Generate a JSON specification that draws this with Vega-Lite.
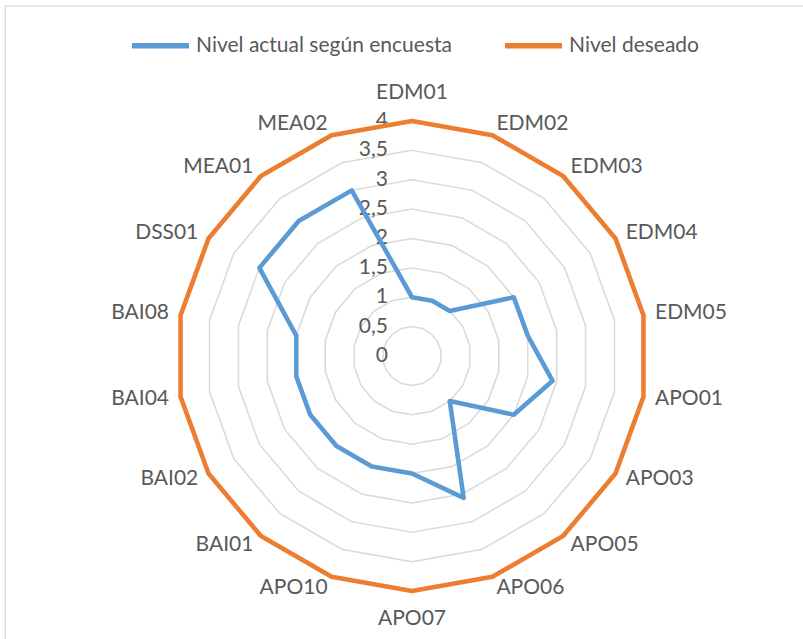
{
  "$schema": "https://vega.github.io/schema/vega-lite/v6.json",
  "autosize": "none",
  "width": 800,
  "height": 640,
  "padding": {"left": 5, "top": 6, "right": 0, "bottom": 0},
  "background": "white",
  "config": {
    "view": {"stroke": "#D9D9D9", "strokeWidth": 1.3},
    "font": "Lato",
    "text": {"font": "Lato"}
  },
  "datasets": {
    "niveles": [
      {"proceso": "EDM01", "serie": "Nivel actual según encuesta", "valor": 1},
      {"proceso": "EDM02", "serie": "Nivel actual según encuesta", "valor": 1},
      {"proceso": "EDM03", "serie": "Nivel actual según encuesta", "valor": 1},
      {"proceso": "EDM04", "serie": "Nivel actual según encuesta", "valor": 2},
      {"proceso": "EDM05", "serie": "Nivel actual según encuesta", "valor": 2},
      {"proceso": "APO01", "serie": "Nivel actual según encuesta", "valor": 2.43},
      {"proceso": "APO03", "serie": "Nivel actual según encuesta", "valor": 2},
      {"proceso": "APO05", "serie": "Nivel actual según encuesta", "valor": 1},
      {"proceso": "APO06", "serie": "Nivel actual según encuesta", "valor": 2.57},
      {"proceso": "APO07", "serie": "Nivel actual según encuesta", "valor": 2},
      {"proceso": "APO10", "serie": "Nivel actual según encuesta", "valor": 2},
      {"proceso": "BAI01", "serie": "Nivel actual según encuesta", "valor": 2},
      {"proceso": "BAI02", "serie": "Nivel actual según encuesta", "valor": 2},
      {"proceso": "BAI04", "serie": "Nivel actual según encuesta", "valor": 2},
      {"proceso": "BAI08", "serie": "Nivel actual según encuesta", "valor": 2},
      {"proceso": "DSS01", "serie": "Nivel actual según encuesta", "valor": 3},
      {"proceso": "MEA01", "serie": "Nivel actual según encuesta", "valor": 3},
      {"proceso": "MEA02", "serie": "Nivel actual según encuesta", "valor": 3},
      {"proceso": "EDM01", "serie": "Nivel deseado", "valor": 4},
      {"proceso": "EDM02", "serie": "Nivel deseado", "valor": 4},
      {"proceso": "EDM03", "serie": "Nivel deseado", "valor": 4},
      {"proceso": "EDM04", "serie": "Nivel deseado", "valor": 4},
      {"proceso": "EDM05", "serie": "Nivel deseado", "valor": 4},
      {"proceso": "APO01", "serie": "Nivel deseado", "valor": 4},
      {"proceso": "APO03", "serie": "Nivel deseado", "valor": 4},
      {"proceso": "APO05", "serie": "Nivel deseado", "valor": 4},
      {"proceso": "APO06", "serie": "Nivel deseado", "valor": 4},
      {"proceso": "APO07", "serie": "Nivel deseado", "valor": 4},
      {"proceso": "APO10", "serie": "Nivel deseado", "valor": 4},
      {"proceso": "BAI01", "serie": "Nivel deseado", "valor": 4},
      {"proceso": "BAI02", "serie": "Nivel deseado", "valor": 4},
      {"proceso": "BAI04", "serie": "Nivel deseado", "valor": 4},
      {"proceso": "BAI08", "serie": "Nivel deseado", "valor": 4},
      {"proceso": "DSS01", "serie": "Nivel deseado", "valor": 4},
      {"proceso": "MEA01", "serie": "Nivel deseado", "valor": 4},
      {"proceso": "MEA02", "serie": "Nivel deseado", "valor": 4}
    ],
    "escala": [
      {"nivel": 0, "etiqueta": "0"},
      {"nivel": 0.5, "etiqueta": "0,5"},
      {"nivel": 1, "etiqueta": "1"},
      {"nivel": 1.5, "etiqueta": "1,5"},
      {"nivel": 2, "etiqueta": "2"},
      {"nivel": 2.5, "etiqueta": "2,5"},
      {"nivel": 3, "etiqueta": "3"},
      {"nivel": 3.5, "etiqueta": "3,5"},
      {"nivel": 4, "etiqueta": "4"}
    ]
  },
  "layer": [
    {
      "data": {"name": "niveles"},
      "transform": [
        {"filter": "datum.serie === 'Nivel deseado'"},
        {"window": [{"op": "row_number", "as": "rn"}]},
        {"calculate": "(datum.rn - 1) * 2 * PI / 18", "as": "ang"},
        {"calculate": "[0.5, 1, 1.5, 2, 2.5, 3, 3.5, 4]", "as": "anillo"},
        {"flatten": ["anillo"]},
        {"calculate": "datum.anillo * sin(datum.ang)", "as": "gx"},
        {"calculate": "datum.anillo * cos(datum.ang)", "as": "gy"}
      ],
      "mark": {"type": "line", "interpolate": "linear-closed", "stroke": "#D9D9D9", "strokeWidth": 1.5},
      "encoding": {
        "x": {"field": "gx", "type": "quantitative", "scale": {"domain": [-6.9277, 6.6894], "nice": false, "zero": false}, "axis": null},
        "y": {"field": "gy", "type": "quantitative", "scale": {"domain": [-4.9362, 5.9574], "nice": false, "zero": false}, "axis": null},
        "detail": {"field": "anillo", "type": "nominal"},
        "order": {"field": "rn", "type": "quantitative"}
      }
    },
    {
      "data": {"name": "escala"},
      "mark": {"type": "text", "align": "right", "baseline": "middle", "fontSize": 21, "color": "#595959", "font": "Lato"},
      "encoding": {
        "x": {"datum": -0.41, "type": "quantitative"},
        "y": {"field": "nivel", "type": "quantitative"},
        "text": {"field": "etiqueta", "type": "nominal"}
      }
    },
    {
      "data": {"name": "niveles"},
      "transform": [
        {"window": [{"op": "row_number", "as": "rn"}], "groupby": ["serie"]},
        {"calculate": "(datum.rn - 1) * 2 * PI / 18", "as": "ang"},
        {"calculate": "datum.valor * sin(datum.ang)", "as": "px"},
        {"calculate": "datum.valor * cos(datum.ang)", "as": "py"}
      ],
      "mark": {"type": "line", "interpolate": "linear-closed", "strokeWidth": 4.6, "strokeJoin": "round", "strokeCap": "round"},
      "encoding": {
        "x": {"field": "px", "type": "quantitative"},
        "y": {"field": "py", "type": "quantitative"},
        "order": {"field": "rn", "type": "quantitative"},
        "color": {
          "field": "serie",
          "type": "nominal",
          "scale": {"domain": ["Nivel actual según encuesta", "Nivel deseado"], "range": ["#5B9BD5", "#ED7D31"]},
          "legend": {
            "orient": "none",
            "legendX": 124,
            "legendY": 8,
            "direction": "horizontal",
            "title": null,
            "symbolType": "stroke",
            "symbolSize": 3249,
            "symbolStrokeWidth": 5.5,
            "labelFontSize": 21,
            "labelFont": "Lato",
            "labelColor": "#595959",
            "labelOffset": 4,
            "columnPadding": 42,
            "labelLimit": 500,
            "padding": 0
          }
        }
      }
    },
    {
      "data": {"name": "niveles"},
      "transform": [
        {"filter": "datum.serie === 'Nivel deseado'"},
        {"window": [{"op": "row_number", "as": "rn"}]},
        {"filter": "datum.rn >= 2 && datum.rn <= 9"},
        {"calculate": "(datum.rn - 1) * 2 * PI / 18", "as": "ang"},
        {"calculate": "4.2 * sin(datum.ang)", "as": "lx"},
        {"calculate": "4.2 * cos(datum.ang)", "as": "ly"}
      ],
      "mark": {"type": "text", "align": "left", "baseline": "middle", "fontSize": 21, "color": "#595959", "font": "Lato"},
      "encoding": {
        "x": {"field": "lx", "type": "quantitative"},
        "y": {"field": "ly", "type": "quantitative"},
        "text": {"field": "proceso", "type": "nominal"}
      }
    },
    {
      "data": {"name": "niveles"},
      "transform": [
        {"filter": "datum.serie === 'Nivel deseado'"},
        {"window": [{"op": "row_number", "as": "rn"}]},
        {"filter": "datum.rn >= 11"},
        {"calculate": "(datum.rn - 1) * 2 * PI / 18", "as": "ang"},
        {"calculate": "4.2 * sin(datum.ang)", "as": "lx"},
        {"calculate": "4.2 * cos(datum.ang)", "as": "ly"}
      ],
      "mark": {"type": "text", "align": "right", "baseline": "middle", "fontSize": 21, "color": "#595959", "font": "Lato"},
      "encoding": {
        "x": {"field": "lx", "type": "quantitative"},
        "y": {"field": "ly", "type": "quantitative"},
        "text": {"field": "proceso", "type": "nominal"}
      }
    },
    {
      "data": {"name": "niveles"},
      "transform": [
        {"filter": "datum.serie === 'Nivel deseado'"},
        {"window": [{"op": "row_number", "as": "rn"}]},
        {"filter": "datum.rn === 1 || datum.rn === 10"},
        {"calculate": "(datum.rn - 1) * 2 * PI / 18", "as": "ang"},
        {"calculate": "4.47 * sin(datum.ang)", "as": "lx"},
        {"calculate": "4.47 * cos(datum.ang)", "as": "ly"}
      ],
      "mark": {"type": "text", "align": "center", "baseline": "middle", "fontSize": 21, "color": "#595959", "font": "Lato"},
      "encoding": {
        "x": {"field": "lx", "type": "quantitative"},
        "y": {"field": "ly", "type": "quantitative"},
        "text": {"field": "proceso", "type": "nominal"}
      }
    }
  ]
}
